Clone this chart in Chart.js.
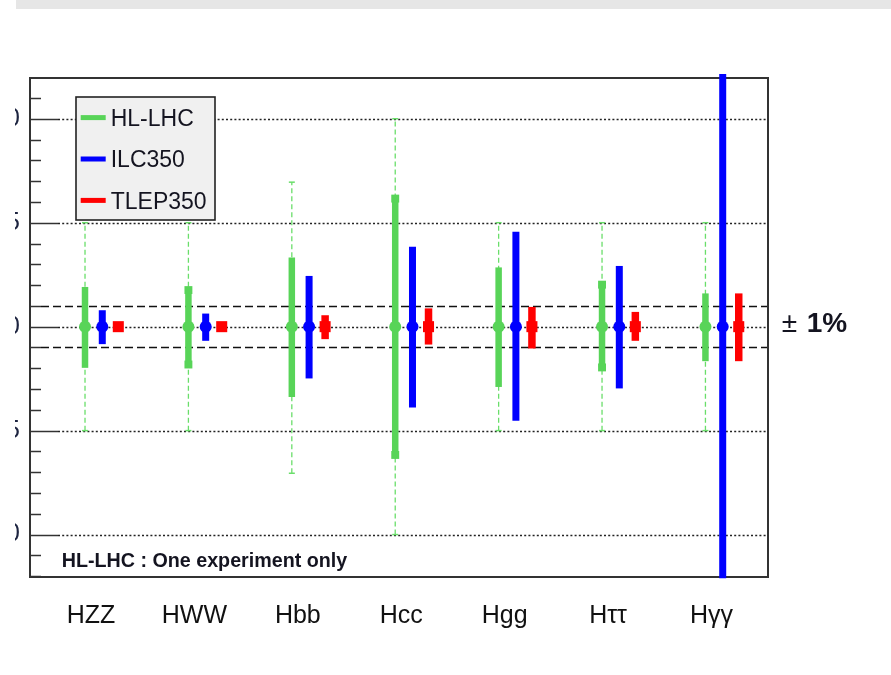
<!DOCTYPE html>
<html>
<head>
<meta charset="utf-8">
<script src="https://cdn.jsdelivr.net/npm/chart.js@4.4.1/dist/chart.umd.min.js"></script>
<style>
  html, body { margin: 0; padding: 0; background: #fff; width: 891px; height: 675px; overflow: hidden; }
  #topbar { position: absolute; left: 16px; top: 0; width: 875px; height: 9px; background: #e6e6e6; }
  #clip { position: absolute; left: 15px; top: 0; width: 876px; height: 675px; overflow: hidden; }
  #c { position: absolute; left: -75px; top: 0; }
</style>
</head>
<body>
<div id="clip"><canvas id="c" width="951" height="675"></canvas></div>
<div id="topbar"></div>
<script>
// Higgs coupling precision per channel (deviation in %, central value at 0)
const categories = ['HZZ', 'HWW', 'Hbb', 'Hcc', 'Hgg', 'Hττ', 'Hγγ'];
const seriesNames = ['HL-LHC', 'ILC350', 'TLEP350'];
const centralValue = [0, 0, 0, 0, 0, 0, 0];

// HL-LHC: experimental-only band (solid) and full range incl. theory (dashed)
const hlLow  = [-1.98, -1.82, -3.38, -6.17, -2.90, -1.96, -1.66];
const hlHigh = [ 1.91,  1.76,  3.33,  6.16,  2.85,  2.02,  1.60];
const hlCapped = [false, true, false, true, false, true, false];
const hlFullLow  = [-5, -5, -7.05, -10, -5, -5, -5];
const hlFullHigh = [ 5,  5,  6.95,  10,  5,  5,  5];

const ilcLow  = [-0.84, -0.68, -2.49, -3.89, -4.53, -2.97, -12.10];
const ilcHigh = [ 0.79,  0.63,  2.44,  3.84,  4.56,  2.92,  12.15];

const tlepLow  = [-0.20, -0.20, -0.60, -0.86, -1.05, -0.68, -1.66];
const tlepHigh = [ 0.20,  0.20,  0.55,  0.88,  0.95,  0.71,  1.60];

const yTickValues = [-10, -5, 0, 5, 10];
const bandLimits = [-1, 1];
const bandLabel = '1%';
const noteText = 'HL-LHC : One experiment only';

const FONT = '"Liberation Sans", Arial, Helvetica, sans-serif';
const GREEN = '#58d458';
const GREEN_DASH = '#6ade6a';
const BLUE = '#0000ff';
const RED = '#ff0000';
const seriesColors = [GREEN, BLUE, RED];

// horizontal placement of each series within a channel slot
const OFF = [-0.058, 0.109, 0.264];
const at = (s, i) => i + OFF[s];

const bars = (s, lo, hi) => categories.map((_, i) => ({ x: at(s, i), y: [lo[i], hi[i]] }));
const markers = (s) => categories.map((_, i) => ({ x: at(s, i), y: centralValue[i] }));

const hlFullLine = [];
categories.forEach((_, i) => {
  hlFullLine.push({ x: at(0, i), y: hlFullLow[i] }, { x: at(0, i), y: hlFullHigh[i] }, { x: at(0, i), y: null });
});
const hlCaps = [];
categories.forEach((_, i) => {
  if (hlCapped[i]) hlCaps.push({ x: at(0, i), y: hlLow[i] }, { x: at(0, i), y: hlHigh[i] });
});

const decor = {
  id: 'decor',
  beforeDatasetsDraw(chart) {
    const { ctx, chartArea: a, scales: { y } } = chart;
    ctx.save();
    // dotted reference lines at labelled values
    ctx.strokeStyle = '#222';
    ctx.lineWidth = 1.4;
    ctx.setLineDash([2, 2.2]);
    yTickValues.forEach(v => {
      const py = Math.round(y.getPixelForValue(v)) + 0.5;
      ctx.beginPath(); ctx.moveTo(a.left + 28, py); ctx.lineTo(a.right, py); ctx.stroke();
    });
    // dashed ±1% band
    ctx.strokeStyle = '#111';
    ctx.lineWidth = 1.6;
    ctx.setLineDash([8, 4]);
    bandLimits.forEach(v => {
      const py = Math.round(y.getPixelForValue(v)) + 0.5;
      ctx.beginPath(); ctx.moveTo(a.left + 11, py); ctx.lineTo(a.right, py); ctx.stroke();
    });
    // inward tick marks on the left axis
    ctx.setLineDash([]);
    ctx.strokeStyle = '#333';
    ctx.lineWidth = 1.5;
    for (let v = Math.ceil(y.min); v <= Math.floor(y.max); v++) {
      const len = yTickValues.includes(v) ? 28 : 11;
      const py = Math.round(y.getPixelForValue(v)) + 0.5;
      ctx.beginPath(); ctx.moveTo(a.left, py); ctx.lineTo(a.left + len, py); ctx.stroke();
    }
    // frame
    ctx.lineWidth = 2;
    ctx.strokeStyle = '#333';
    ctx.strokeRect(a.left, a.top, a.right - a.left, a.bottom - a.top);
    ctx.restore();
  },
  afterDatasetsDraw(chart) {
    const { ctx, chartArea: a, scales: { y } } = chart;
    ctx.save();
    // legend box
    const lx = a.left + 46, ly = a.top + 19, lw = 139, lh = 123;
    ctx.fillStyle = '#f0f0f0';
    ctx.fillRect(lx, ly, lw, lh);
    ctx.strokeStyle = '#222';
    ctx.lineWidth = 1.6;
    ctx.strokeRect(lx, ly, lw, lh);
    seriesNames.forEach((name, i) => {
      const rowY = ly + 20.6 + i * 41.4;
      ctx.strokeStyle = seriesColors[i];
      ctx.lineWidth = 5;
      ctx.beginPath(); ctx.moveTo(lx + 4.7, rowY); ctx.lineTo(lx + 29.7, rowY); ctx.stroke();
      ctx.fillStyle = '#141420';
      ctx.font = `23px ${FONT}`;
      ctx.textBaseline = 'alphabetic';
      ctx.textAlign = 'left';
      ctx.fillText(name, lx + 34.7, rowY + 8.3);
    });
    // note in the lower-left corner
    ctx.fillStyle = '#141420';
    ctx.font = `bold 19.7px ${FONT}`;
    ctx.fillText(noteText, a.left + 31.7, a.bottom - 10.5);
    // ±1% label to the right of the frame
    const y0 = y.getPixelForValue(0);
    ctx.font = `28px ${FONT}`;
    ctx.fillText('±', a.right + 13.7, y0 + 5.2);
    ctx.font = `bold 28px ${FONT}`;
    ctx.fillText(bandLabel, a.right + 38.7, y0 + 5.2);
    ctx.restore();
  }
};

const barCommon = { type: 'bar', grouped: false, borderWidth: 0, clip: false, order: 2 };
const markerCommon = { type: 'line', showLine: false, clip: false, order: 0, pointBorderWidth: 0 };

new Chart(document.getElementById('c'), {
  type: 'bar',
  data: {
    datasets: [
      { ...markerCommon, label: seriesNames[0], data: markers(0), pointStyle: 'circle', pointRadius: 6, backgroundColor: GREEN, pointBackgroundColor: GREEN },
      { ...markerCommon, label: seriesNames[1], data: markers(1), pointStyle: 'circle', pointRadius: 6, backgroundColor: BLUE, pointBackgroundColor: BLUE },
      { ...markerCommon, label: seriesNames[2], data: markers(2), pointStyle: 'rect', pointRadius: 7.8, backgroundColor: RED, pointBackgroundColor: RED },
      { ...markerCommon, order: 1, label: 'caps', data: hlCaps, pointStyle: 'rect', pointRadius: 5.6, pointBackgroundColor: GREEN },
      { ...barCommon, label: seriesNames[0], data: bars(0, hlLow, hlHigh), backgroundColor: GREEN, maxBarThickness: 6.5 },
      { ...barCommon, label: seriesNames[1], data: bars(1, ilcLow, ilcHigh), backgroundColor: BLUE, maxBarThickness: 7 },
      { ...barCommon, label: seriesNames[2], data: bars(2, tlepLow, tlepHigh), backgroundColor: RED, maxBarThickness: 7.5 },
      {
        type: 'line', label: 'range', data: hlFullLine, order: 3, clip: false,
        borderColor: GREEN_DASH, borderWidth: 1.3, borderDash: [5, 3], spanGaps: false,
        pointStyle: 'line', pointBorderColor: GREEN_DASH, pointBorderWidth: 1.5,
        pointRadius: (c) => (c.raw && c.raw.y !== null ? 3 : 0)
      }
    ]
  },
  options: {
    responsive: false,
    animation: false,
    events: [],
    layout: { padding: { top: 78, right: 123, left: 0, bottom: 0 } },
    plugins: { legend: { display: false }, tooltip: { enabled: false } },
    scales: {
      x: {
        type: 'linear', min: -0.59, max: 6.547, bounds: 'data', offset: false,
        grid: { display: false, drawTicks: false }, border: { display: false },
        afterFit: (s) => { s.height = 98; },
        afterBuildTicks: (s) => { s.ticks = categories.map((_, i) => ({ value: i })); },
        ticks: {
          autoSkip: false, maxRotation: 0, padding: 24, color: '#111',
          font: { family: FONT, size: 25 },
          callback: (v) => categories[v]
        }
      },
      y: {
        type: 'linear', min: -12.04, max: 11.96, bounds: 'data',
        grid: { display: false, drawTicks: false }, border: { display: false },
        afterFit: (s) => { s.width = 90; },
        afterBuildTicks: (s) => { s.ticks = yTickValues.map(v => ({ value: v })); },
        ticks: {
          padding: 10, color: '#1d2440',
          font: { family: FONT, size: 25 },
          callback: (v) => String(v)
        }
      }
    }
  },
  plugins: [decor]
});
</script>
</body>
</html>
